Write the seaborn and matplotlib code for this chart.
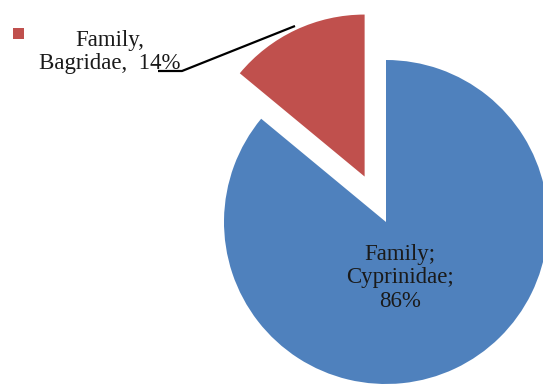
import matplotlib
matplotlib.use("Agg")
import matplotlib.pyplot as plt
import seaborn as sns
from matplotlib.patches import Rectangle

sns.set_theme(style="white")
plt.rcParams['font.family'] = ['Liberation Serif', 'DejaVu Serif']

# Data
families = ["Cyprinidae", "Bagridae"]
shares = [86, 14]
colors = ["#4F81BD", "#C0504D"]
explode_frac = [0.0, 0.31]

W, H = 543, 388
fig = plt.figure(figsize=(W / 100, H / 100), dpi=100)
ax = fig.add_axes([0, 0, 1, 1])

cx, cy, r = 386, H - 222, 162
ax.pie(shares, colors=colors, explode=[e * r for e in explode_frac], startangle=90,
       counterclock=False, center=(cx, cy), radius=r, frame=True,
       wedgeprops=dict(linewidth=0))
ax.set_xlim(0, W)
ax.set_ylim(0, H)
ax.set_aspect('equal')
ax.axis('off')

txt_color = "#1a1a1a"
fs = 16.5
# Cyprinidae label
ax.text(400, H - 278, f"Family;\n{families[0]};\n{shares[0]}%", ha='center', va='center',
        fontsize=fs, color=txt_color, linespacing=1.15)
# Bagridae label
ax.text(110, H - 52, f"Family,\n{families[1]},  {shares[1]}%", ha='center', va='center',
        fontsize=fs, color=txt_color, linespacing=1.18)
# legend key square
ax.add_patch(Rectangle((13, H - 39), 11, 11, color=colors[1], lw=0))
# leader line
ax.plot([158, 182, 295], [H - 71, H - 71, H - 26], color='black', lw=1.6,
        solid_capstyle='butt')

fig.savefig("out.png", dpi=100)
